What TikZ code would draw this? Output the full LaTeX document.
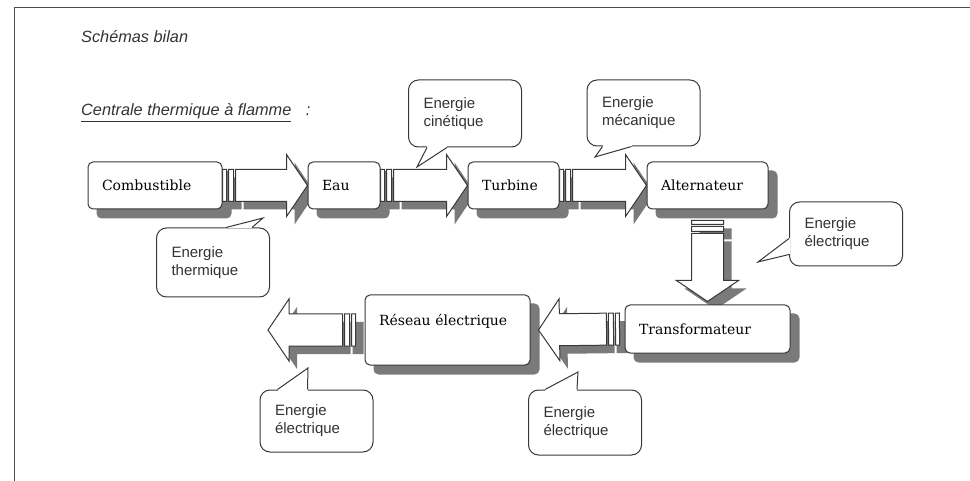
\documentclass[tikz,border=0pt]{standalone}
\usepackage{fontspec}
\setmainfont{Liberation Sans}
\newfontfamily\boxfont{DejaVu Serif}
\usepackage{tikz}
\usetikzlibrary{calc,positioning}
\pgfdeclarelayer{shade}
\pgfdeclarelayer{under}
\pgfsetlayers{shade,under,main}

\tikzset{
    boxline/.style={draw=black!78, line width=1pt},
    box/.style={boxline, fill=white, rounded corners=5pt, align=left,
        inner xsep=14pt, inner ysep=0pt, minimum height=47pt,
        font=\boxfont\fontsize{14}{16}\selectfont},
    boxshade/.style={fill=black!52, rounded corners=5pt},
    bubble/.style={boxline, fill=white, rounded corners=10pt, align=left,
        inner xsep=15pt, text width=83pt, minimum height=65pt,
        font=\fontsize{15}{18}\selectfont, text=black!80},
    heading/.style={anchor=base west, inner sep=0, text=black!80,
        font=\itshape\fontsize{16.3}{19}\selectfont},
    arrowbody/.style={boxline, fill=white, line join=miter},
    arrowshade/.style={fill=black!52},
    frameline/.style={draw=black!70, line width=0.9pt},
}

% length and angle from #1 to #2
\newcommand{\arrowdir}[2]{%
    \path let \p1=($(#2)-(#1)$) in
        \pgfextra{\pgfmathsetmacro\alen{veclen(\x1,\y1)}%
            \pgfmathsetmacro\aang{atan2(\y1,\x1)}%
            \global\let\alen\alen\global\let\aang\aang};}

% striped block arrow, tail #1, tip #2
\newcommand{\fatarrow}[2]{%
    \arrowdir{#1}{#2}%
    \begin{pgfonlayer}{shade}
        \fill[arrowshade, shift={(#1)}, xshift=8pt, yshift=-8pt, rotate=\aang]
            (0,-16) rectangle (11,16)
            (13,-16) -- (\alen-21,-16) -- (\alen-21,-31) -- (\alen,0)
            -- (\alen-21,31) -- (\alen-21,16) -- (13,16) -- cycle;
    \end{pgfonlayer}
    \begin{pgfonlayer}{under}
        \draw[arrowbody, shift={(#1)}, rotate=\aang]
            (0,-16) rectangle (4,16)
            (6,-16) rectangle (11,16)
            (13,-16) -- (\alen-21,-16) -- (\alen-21,-31) -- (\alen,0)
            -- (\alen-21,31) -- (\alen-21,16) -- (13,16) -- cycle;
    \end{pgfonlayer}}

% pointer of a bubble: base #1 -- #2, tip #3
\newcommand{\spike}[3]{%
    \fill[white] (#1) -- (#3) -- (#2) -- cycle;
    \draw[white, line width=2pt] (#1) -- (#2);
    \draw[boxline, line join=miter] (#1) -- (#3) -- (#2);}

\begin{document}
\begin{tikzpicture}[x=1pt, y=-1pt]
    \useasboundingbox (0,0) rectangle (970,481);
    \draw[frameline] (14,481) -- (14,7) -- (970,7);

    % titles
    \node[heading] (title) at (81,42.5) {Schémas bilan};
    \node[heading] (plant) at (81,116)
        {\underline{Centrale thermique à flamme}\hspace{10pt} :};

    % chain
    \node[box, text width=106pt] (comb) at (155,185.5) {Combustible};
    \node[box, text width=44pt] (eau) at (344,185.5) {Eau};
    \node[box, text width=63pt] (turb) at (513.5,185.5) {Turbine};
    \node[box, text width=93pt] (alt) at (707.5,185.5) {Alternateur};
    \node[box, text width=137pt, minimum height=48pt] (trans) at (707.5,329) {Transformateur};
    \node[box, text width=137pt, minimum height=70pt,
        text height=10pt, text depth=18pt] (res) at (447.5,330) {Réseau électrique};

    % box shadows
    \begin{pgfonlayer}{shade}
        \foreach \n in {comb,eau,turb,alt,trans,res}
            \fill[boxshade] ([shift={(9,9)}]\n.north west) rectangle ([shift={(9,9)}]\n.south east);
    \end{pgfonlayer}

    % arrows
    \coordinate (dtail) at ($(alt.south)+(0,11)$);
    \coordinate (dtip) at ($(trans.north)+(0,-3)$);
    \coordinate (rtail) at ($(trans.west)+(-5,0)$);
    \coordinate (rtip) at ($(res.east)+(8,0)$);
    \coordinate (gtail) at ($(res.west)+(-9,0)$);
    \coordinate (grid) at (268,330);
    \fatarrow{comb.east}{eau.west}
    \fatarrow{eau.east}{turb.west}
    \fatarrow{turb.east}{alt.west}
    \fatarrow{dtail}{dtip}
    \fatarrow{rtail}{rtip}
    \fatarrow{gtail}{grid}

    % bubbles
    \node[bubble, minimum height=67pt] (cin) at (465,113.5) {Energie\\cinétique};
    \node[bubble, minimum height=66pt] (mec) at (643.5,113) {Energie\\mécanique};
    \node[bubble, minimum height=69pt] (therm) at (213,262.5) {Energie\\thermique};
    \node[bubble, minimum height=64pt] (elr) at (846,234) {Energie\\électrique};
    \node[bubble, minimum height=62pt] (elb) at (316.5,421) {Energie\\électrique};
    \node[bubble, minimum height=65pt] (elm) at (585,422.5) {Energie\\électrique};

    \coordinate (cinp) at (417,167);
    \coordinate (mecp) at (595,157);
    \coordinate (thermp) at (263,218);
    \coordinate (elrp) at (758,262);
    \coordinate (elbp) at (308,368);
    \coordinate (elmp) at (578,372);
    \spike{$(cin.south west)+(19,0)$}{$(cin.south west)+(39,0)$}{cinp}
    \spike{$(mec.south west)+(16,0)$}{$(mec.south west)+(45,0)$}{mecp}
    \spike{$(therm.north west)+(70,0)$}{$(therm.north west)+(96,0)$}{thermp}
    \spike{$(elr.south west)+(0,-28)$}{$(elr.south west)+(0,-12)$}{elrp}
    \spike{$(elb.north west)+(18,0)$}{$(elb.north west)+(48,0)$}{elbp}
    \spike{$(elm.north west)+(17,0)$}{$(elm.north west)+(49,0)$}{elmp}
\end{tikzpicture}
\end{document}
